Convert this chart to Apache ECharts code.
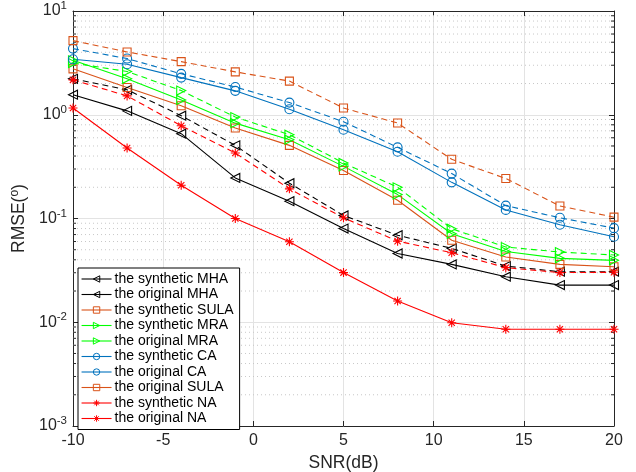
<!DOCTYPE html>
<html><head><meta charset="utf-8">
<script src="https://cdn.jsdelivr.net/npm/echarts@6/dist/echarts.min.js"></script>
<style>html,body{margin:0;padding:0;background:#fff}#c{width:636px;height:472px}</style>
</head><body><div id="c"></div>
<script>
const snr = [-10, -7, -4, -1, 2, 5, 8, 11, 14, 17, 20];
const synMHA  = [1.56, 1.09, 0.657, 0.246, 0.147, 0.080, 0.046, 0.0361, 0.0275, 0.0228, 0.0228];
const oriMHA  = [2.22, 1.74, 0.98, 0.507, 0.219, 0.107, 0.069, 0.0515, 0.0348, 0.0307, 0.0307];
const synSULA = [2.77, 1.83, 1.22, 0.745, 0.507, 0.29, 0.15, 0.0618, 0.0425, 0.0361, 0.0343];
const synMRA  = [3.35, 2.22, 1.39, 0.83, 0.575, 0.318, 0.17, 0.0713, 0.048, 0.0413, 0.0395];
const oriMRA  = [3.15, 2.61, 1.71, 0.95, 0.642, 0.343, 0.2, 0.0797, 0.0531, 0.0475, 0.0445];
const synCA   = [3.43, 3.07, 2.28, 1.70, 1.13, 0.717, 0.44, 0.223, 0.121, 0.087, 0.0667];
const oriCA   = [4.34, 3.48, 2.48, 1.85, 1.31, 0.857, 0.485, 0.271, 0.133, 0.1016, 0.0807];
const oriSULA = [5.18, 4.03, 3.25, 2.59, 2.11, 1.16, 0.832, 0.372, 0.243, 0.132, 0.103];
const synNA   = [1.16, 0.478, 0.209, 0.1, 0.0597, 0.0301, 0.016, 0.0099, 0.00857, 0.00857, 0.00857];
const oriNA   = [2.17, 1.52, 0.784, 0.428, 0.193, 0.1016, 0.0605, 0.0468, 0.0336, 0.0301, 0.0303];
const xTicks = [-10, -5, 0, 5, 10, 15, 20];
const yDecades = [0.001, 0.01, 0.1, 1, 10];

// minor log values 2..9 x 10^k
const minorVals = [];
for (let k = -3; k < 1; k++) for (let m = 2; m <= 9; m++) minorVals.push(m * Math.pow(10, k));

const ORANGE = '#D95319', BLUE = '#0072BD', GREEN = '#00FF00', RED = '#FF0000', BLACK = '#000000';
const TRI_L = 'path://M0,5L9,0L9,10Z';
const TRI_R = 'path://M9,5L0,0L0,10Z';
const STAR = 'path://M5,0L5,10M0,5L10,5M1.5,1.5L8.5,8.5M1.5,8.5L8.5,1.5';

function mk(name, data, color, symbol, dashed, size) {
  return {
    name, type: 'line', data: snr.map((x, i) => [x, data[i]]),
    symbol, symbolSize: size, showSymbol: true,
    lineStyle: { color, width: 1.1, type: dashed ? [6, 4] : 'solid' },
    itemStyle: { color: symbol === STAR ? color : 'rgba(255,255,255,0)', borderColor: color, borderWidth: 1.1 },
    emphasis: { disabled: true }, animation: false, z: 3
  };
}

const series = [
  mk('the synthetic MHA', synMHA, BLACK, TRI_L, false, [9, 9]),
  mk('the original MHA', oriMHA, BLACK, TRI_L, true, [9, 9]),
  mk('the synthetic SULA', synSULA, ORANGE, 'rect', false, 8),
  mk('the synthetic MRA', synMRA, GREEN, TRI_R, false, [9, 9]),
  mk('the original MRA', oriMRA, GREEN, TRI_R, true, [9, 9]),
  mk('the synthetic CA', synCA, BLUE, 'circle', false, 9),
  mk('the original CA', oriCA, BLUE, 'circle', true, 9),
  mk('the original SULA', oriSULA, ORANGE, 'rect', true, 8),
  mk('the synthetic NA', synNA, RED, STAR, false, 9),
  mk('the original NA', oriNA, RED, STAR, true, 9),
  {
    type: 'custom', silent: true, animation: false, z: 1,
    data: minorVals.map(v => [v]),
    encode: { y: 0 },
    renderItem: function (params, api) {
      const v = api.value(0);
      const a = api.coord([-10, v]);
      const b = api.coord([20, v]);
      return {
        type: 'group', children: [
          { type: 'line', shape: { x1: a[0], y1: a[1], x2: b[0], y2: b[1] },
            style: { stroke: '#c8c8c8', lineWidth: 1, lineDash: [1, 3] } },
          { type: 'line', shape: { x1: a[0], y1: a[1], x2: a[0] + 3, y2: a[1] },
            style: { stroke: '#262626', lineWidth: 1 } },
          { type: 'line', shape: { x1: b[0] - 3, y1: b[1], x2: b[0], y2: b[1] },
            style: { stroke: '#262626', lineWidth: 1 } }
        ]
      };
    }
  }
];

const axisCol = '#262626';
const FONT = 'Liberation Sans, Arial, sans-serif';
const chart = echarts.init(document.getElementById('c'), null, { renderer: 'canvas' });
chart.setOption({
  animation: false,
  backgroundColor: '#ffffff',
  textStyle: { fontFamily: FONT },
  grid: { left: 73, right: 22, top: 11, bottom: 46, containLabel: false, outerBoundsMode: 'none' },
  legend: {
    data: series.slice(0, 10).map(s => s.name),
    orient: 'vertical', left: 78, top: 268,
    backgroundColor: '#fff', borderColor: '#000', borderWidth: 1,
    padding: [4, 6, 4, 3], itemGap: 1.5, itemWidth: 30, itemHeight: 8,
    lineStyle: { type: 'solid', width: 1.1 },
    itemStyle: { color: 'rgba(255,255,255,0)', borderWidth: 1 },
    textStyle: { fontSize: 14, color: '#000', fontFamily: FONT, padding: [0, 0, 0, -2], lineHeight: 14 },
    selectedMode: false
  },
  xAxis: [{
    type: 'value', min: -10, max: 20, interval: 5,
    name: 'SNR(dB)', nameLocation: 'middle', nameGap: 24,
    nameTextStyle: { fontSize: 17.5, color: axisCol },
    axisLine: { show: true, onZero: false, lineStyle: { color: axisCol, width: 1 } },
    axisTick: { show: true, inside: true, length: 5, lineStyle: { color: axisCol } },
    axisLabel: { fontSize: 16, color: axisCol, margin: 7 },
    splitLine: { show: true, lineStyle: { color: '#e3e3e3', width: 1 } }
  }, {
    type: 'value', min: -10, max: 20, interval: 5, position: 'top',
    axisLine: { show: true, onZero: false, lineStyle: { color: axisCol, width: 1 } },
    axisTick: { show: true, inside: true, length: 5, lineStyle: { color: axisCol } },
    axisLabel: { show: false }, splitLine: { show: false }
  }],
  yAxis: [{
    type: 'log', logBase: 10, min: 0.001, max: 10,
    name: 'RMSE({sup|o})', nameLocation: 'middle', nameGap: 32, nameRotate: 90,
    nameTextStyle: { fontSize: 17.5, color: axisCol, rich: { sup: { fontSize: 12, color: axisCol, padding: [0, 0, 9, 0] } } },
    axisLine: { show: true, onZero: false, lineStyle: { color: axisCol, width: 1 } },
    axisTick: { show: true, inside: true, length: 5, lineStyle: { color: axisCol } },
    axisLabel: {
      color: axisCol, fontSize: 16, margin: 6,
      formatter: function (v) { return '10{sup|' + Math.round(Math.log10(v)) + '}'; },
      rich: { sup: { fontSize: 11.5, color: axisCol, padding: [0, 0, 10, 0] } }
    },
    splitLine: { show: true, lineStyle: { color: '#e3e3e3', width: 1 } }
  }, {
    type: 'log', logBase: 10, min: 0.001, max: 10, position: 'right',
    axisLine: { show: true, onZero: false, lineStyle: { color: axisCol, width: 1 } },
    axisTick: { show: true, inside: true, length: 5, lineStyle: { color: axisCol } },
    axisLabel: { show: false }, splitLine: { show: false }
  }],
  series: series
});
</script></body></html>
